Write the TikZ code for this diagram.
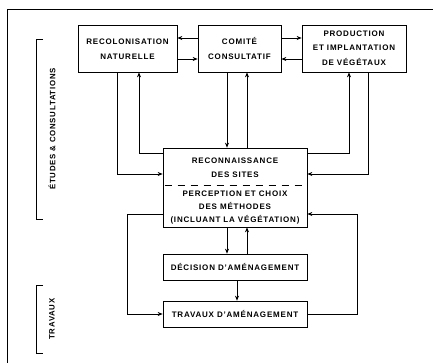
\documentclass[tikz,border=0pt]{standalone}
\usepackage{fontspec}
\setmainfont{Liberation Sans}[LetterSpace=10]
\usetikzlibrary{arrows.meta,calc}
\begin{document}
\begin{tikzpicture}[x=1pt,y=-1pt,
  box/.style={draw,line width=0.7pt,rectangle,inner sep=0pt},
  lbl/.style={font=\bfseries\fontsize{8}{15.5}\selectfont,align=center,inner sep=0pt},
  arr/.style={line width=0.7pt,-{Stealth[length=5pt,width=4pt]}},
  ln/.style={line width=0.7pt}]
\useasboundingbox (0,0) rectangle (433,363);
% frame
\draw[line width=0.8pt] (7,363) -- (7,9) -- (433,9);
% boxes
\node[box,minimum width=99pt,minimum height=47pt] (recol) at (127.5,48.5) {};
\node[box,minimum width=83pt,minimum height=47pt] (comite) at (239.5,48.5) {};
\node[box,minimum width=104pt,minimum height=47pt] (prod) at (354,48.5) {};
\node[box,minimum width=144pt,minimum height=79pt] (recon) at (235,187.5) {};
\node[box,minimum width=144pt,minimum height=26pt] (dec) at (235,267) {};
\node[box,minimum width=144pt,minimum height=26pt] (trav) at (235,314) {};
% texts
\node[lbl] (t1) at (127.5,49) {RECOLONISATION\\NATURELLE};
\node[lbl] (t2) at (239.5,48.5) {COMITÉ\\CONSULTATIF};
\node[lbl,font=\bfseries\fontsize{8}{14.7}\selectfont] (t3) at (354,48) {PRODUCTION\\ET IMPLANTATION\\DE VÉGÉTAUX};
\node[lbl,font=\bfseries\fontsize{8}{14.3}\selectfont] (t4) at (235,167.5) {RECONNAISSANCE\\DES SITES};
\node[lbl,font=\bfseries\fontsize{8}{13.4}\selectfont] (t5) at (235,207.5) {PERCEPTION ET CHOIX\\DES MÉTHODES\\(INCLUANT LA VÉGÉTATION)};
\node[lbl] (t6) at (235,266.5) {DÉCISION D'AMÉNAGEMENT};
\node[lbl] (t7) at (235,313.5) {TRAVAUX D'AMÉNAGEMENT};
\draw[ln,dash pattern=on 7pt off 6pt] (recon.west |- 0,185) ++(2,0) -- ($(recon.east |- 0,185)+(-3,0)$);
% horizontal arrows at top
\draw[arr] (comite.west |- 0,38) -- (recol.east |- 0,38);
\draw[arr] (recol.east |- 0,59) -- (comite.west |- 0,59);
\draw[arr] (comite.east |- 0,38) -- (prod.west |- 0,38);
\draw[arr] (prod.west |- 0,59) -- (comite.east |- 0,59);
% top boxes to reconnaissance
\draw[arr] (117,0 |- recol.south) |- (recon.west |- 0,174);
\draw[arr] (recon.west |- 0,153) -| (139,0 |- recol.south);
\draw[arr] (227,0 |- comite.south) -- (227,0 |- recon.north);
\draw[arr] (247,0 |- recon.north) -- (247,0 |- comite.south);
\draw[arr] (recon.east |- 0,153) -| (349,0 |- prod.south);
\draw[arr] (368,0 |- prod.south) |- (recon.east |- 0,174);
% lower loops
\draw[arr] (recon.west |- 0,214) -| (127,0 |- trav.west) -- (trav.west);
\draw[arr] (trav.east) -| (357,0 |- recon.east |- 0,214) -- (recon.east |- 0,214);
\draw[arr] (227,0 |- recon.south) -- (227,0 |- dec.north);
\draw[arr] (247,0 |- dec.north) -- (247,0 |- recon.south);
\draw[arr] (237,0 |- dec.south) -- (237,0 |- trav.north);
% brackets
\draw[ln] (43,39) -- (36,39) -- (36,219) -- (43,219);
\node[lbl,rotate=90,font=\bfseries\fontsize{7.8}{8}\selectfont] (b1) at (52,129) {ÉTUDES \& CONSULTATIONS};
\draw[ln] (43,285) -- (36,285) -- (36,353) -- (43,353);
\node[lbl,rotate=90,font=\bfseries\fontsize{7.8}{8}\selectfont] (b2) at (52,319) {TRAVAUX};
\end{tikzpicture}
\end{document}
